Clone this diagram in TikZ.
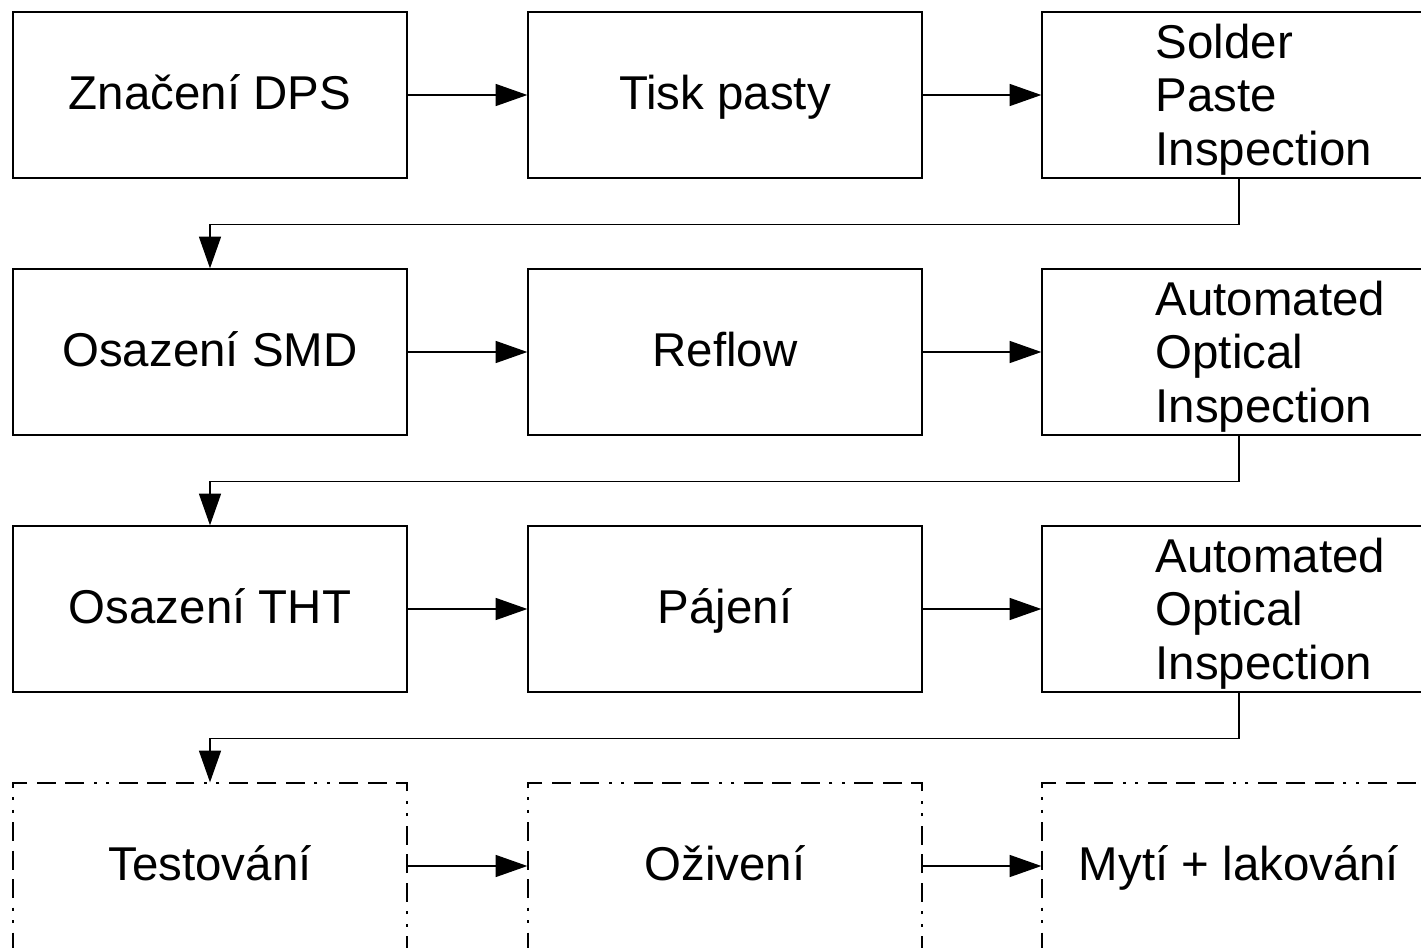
\documentclass[tikz,border=0pt]{standalone}
\usepackage{fontspec}
\setmainfont{Liberation Sans}
\usetikzlibrary{arrows.meta}

\begin{document}
\begin{tikzpicture}[
		krok/.style={draw, line width=0.75pt, minimum width=7.88cm, minimum height=3.32cm, inner sep=0pt, text height=22pt, text depth=5pt, font=\fontsize{27}{30.5}\selectfont},
		krokvolny/.style={krok, dash pattern=on 10.8pt off 5.4pt on 10.8pt off 5.4pt on 10.8pt off 5.4pt on 1.7pt off 5.4pt on 1.7pt off 5.4pt},
		popis/.style={inner sep=0pt, align=left, yshift=-0.09cm, font=\fontsize{27}{30.5}\selectfont},
		sipka/.style={line width=0.75pt, -{Triangle[length=18pt,width=12.5pt]}}
	]
			%%%%% START %%%%%
			
			\useasboundingbox (0, 0) rectangle (28.42, -18.96);
			
			\node[krok] (znaceni) at (4.2, -1.9) {Značení DPS};
			\node[krok] (tisk) at (14.5, -1.9) {Tisk pasty};
			\node[krok] (spi) at (24.78, -1.9) {};
			\node[popis, anchor=west] (spitext) at ([xshift=2.28cm]spi.west) {Solder\\Paste\\Inspection};
			
			\node[krok] (osmd) at (4.2, -7.04) {Osazení SMD};
			\node[krok] (reflow) at (14.5, -7.04) {Reflow};
			\node[krok] (aoia) at (24.78, -7.04) {};
			\node[popis, anchor=west] (aoiatext) at ([xshift=2.28cm]aoia.west) {Automated\\Optical\\Inspection};
			
			\node[krok] (otht) at (4.2, -12.18) {Osazení THT};
			\node[krok] (pajeni) at (14.5, -12.18) {Pájení};
			\node[krok] (aoib) at (24.78, -12.18) {};
			\node[popis, anchor=west] (aoibtext) at ([xshift=2.28cm]aoib.west) {Automated\\Optical\\Inspection};
			
			\node[krokvolny] (test) at (4.2, -17.32) {Testování};
			\node[krokvolny] (oziveni) at (14.5, -17.32) {Oživení};
			\node[krokvolny] (myti) at (24.78, -17.32) {Mytí + lakování};
			
			\draw[sipka] (znaceni.east) -- (tisk.west);
			\draw[sipka] (tisk.east) -- (spi.west);
			\draw[sipka] (spi.south) -- ++(0, -0.91) -| (osmd.north);
			
			\draw[sipka] (osmd.east) -- (reflow.west);
			\draw[sipka] (reflow.east) -- (aoia.west);
			\draw[sipka] (aoia.south) -- ++(0, -0.91) -| (otht.north);
			
			\draw[sipka] (otht.east) -- (pajeni.west);
			\draw[sipka] (pajeni.east) -- (aoib.west);
			\draw[sipka] (aoib.south) -- ++(0, -0.91) -| (test.north);
			
			\draw[sipka] (test.east) -- (oziveni.west);
			\draw[sipka] (oziveni.east) -- (myti.west);
			
			%%%%% END %%%%%
		\end{tikzpicture}
\end{document}
